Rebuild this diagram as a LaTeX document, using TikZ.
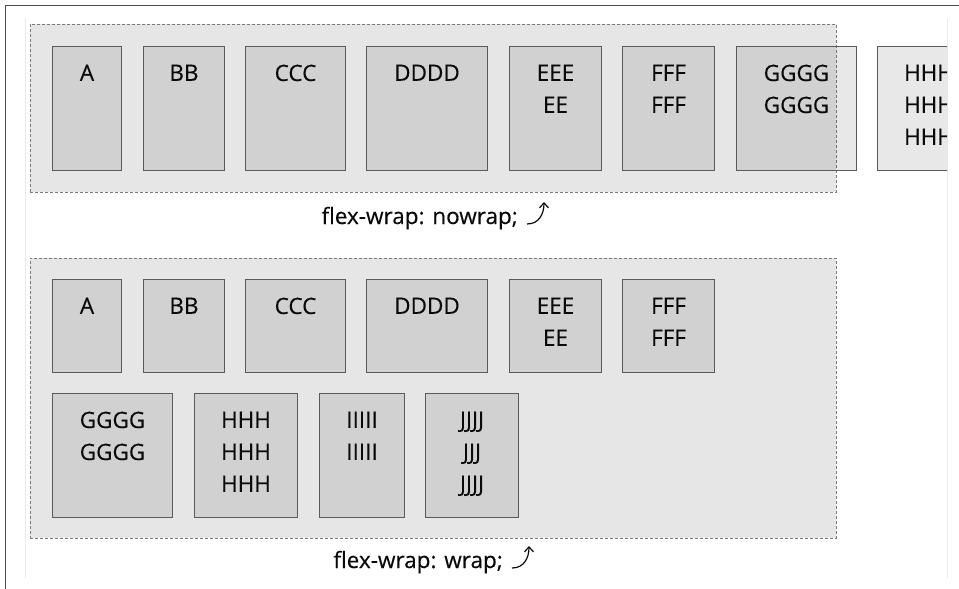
\documentclass[tikz,border=0pt]{standalone}
\usepackage{fontspec}
\setmainfont{Open Sans}
\usetikzlibrary{arrows.meta,positioning,calc}
\definecolor{FB}{HTML}{E6E6E6}
\definecolor{FL}{HTML}{5A5A5A}
\definecolor{FT}{HTML}{0A0A0A}

\tikzset{
  flexbox/.style={draw=FL!80, fill=FB, line width=0.9pt,
    dash pattern=on 3pt off 2pt, anchor=north west, inner sep=0pt},
  flexitem/.style={draw=FL, line width=1pt, fill=black, fill opacity=0.09,
    anchor=north west, inner sep=0pt},
  itemtext/.style={anchor=north, align=center, inner sep=0pt, yshift=-18.5pt,
    opacity=1, text=FT,
    font=\fontsize{22.5}{32}\selectfont\addfontfeature{FakeBold=0.35}},
  caption/.style={anchor=base east, inner sep=0pt, text=FT,
    font=\fontsize{22.5}{32}\selectfont\addfontfeature{FakeBold=0.35}},
  curlarrow/.style={line width=1.2pt, draw=FT,
    -{Straight Barb[length=5pt,width=9pt]}}
}

\begin{document}
\begin{tikzpicture}[x=1pt, y=-1pt]
  \useasboundingbox (0,0) rectangle (959,589);
  \fill[white] (0,0) rectangle (959,589);

  % page frame
  \draw[line width=1.6pt, draw=black!70] (5.5,589) -- (5.5,5.5) -- (959,5.5);
  \draw[line width=0.8pt, draw=black!8] (25,18) -- (25,578);
  \draw[line width=0.8pt, draw=black!8] (947,18) -- (947,578);

  % flex-wrap: nowrap
  \node[flexbox, minimum width=806pt, minimum height=168pt] (nowrap) at (30,24) {};
  \begin{scope}
    \clip (0,0) rectangle (947,589);
    \foreach \nm/\x/\w/\txt in {a/52/69/A, b/143/81/BB, c/245/100/CCC,
        d/366/121/DDDD, e/509/92/{EEE\\EE}, f/622/92/{FFF\\FFF},
        g/736/120/{GGGG\\GGGG}, h/877/103/{HHH\\HHH\\HHH}}
      \node[flexitem, minimum width=\w pt, minimum height=124pt,
            label={[itemtext]north:\txt}] (nw\nm) at (\x,46) {};
  \end{scope}
  \node[caption] (capnowrap) at (518,224) {flex-wrap: nowrap;};
  \coordinate[right=9pt of capnowrap.base east] (nwfrom);
  \coordinate (nwto) at ($(nwfrom)+(17,-22)$);
  \draw[curlarrow] (nwfrom) .. controls ($(nwfrom)+(12,0)$) and ($(nwto)+(0,12)$) .. (nwto);

  % flex-wrap: wrap
  \node[flexbox, minimum width=806pt, minimum height=280pt] (wrap) at (30,258) {};
  \foreach \nm/\x/\w/\txt in {a/52/69/A, b/143/81/BB, c/245/100/CCC,
      d/366/121/DDDD, e/509/92/{EEE\\EE}, f/622/92/{FFF\\FFF}}
    \node[flexitem, minimum width=\w pt, minimum height=93pt,
          label={[itemtext]north:\txt}] (w\nm) at (\x,279) {};
  \foreach \nm/\x/\w/\txt in {g/52/120/{GGGG\\GGGG}, h/194/103/{HHH\\HHH\\HHH},
      i/319/85/{IIIII\\IIIII}, j/425/93/{JJJJ\\JJJ\\JJJJ}}
    \node[flexitem, minimum width=\w pt, minimum height=124pt,
          label={[itemtext]north:\txt}] (w\nm) at (\x,393) {};
  \node[caption] (capwrap) at (503,568) {flex-wrap: wrap;};
  \coordinate[right=9pt of capwrap.base east] (wfrom);
  \coordinate (wto) at ($(wfrom)+(17,-22)$);
  \draw[curlarrow] (wfrom) .. controls ($(wfrom)+(12,0)$) and ($(wto)+(0,12)$) .. (wto);
\end{tikzpicture}
\end{document}
